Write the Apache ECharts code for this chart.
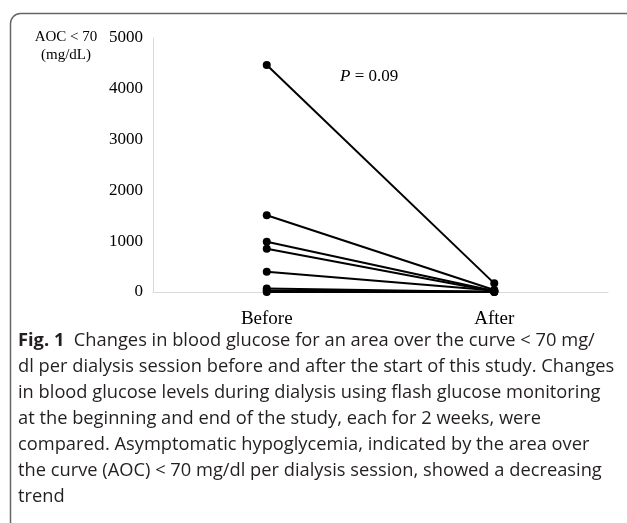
<!DOCTYPE html>
<html>
<head>
<meta charset="utf-8">
<script src="https://cdn.jsdelivr.net/npm/echarts@6/dist/echarts.min.js"></script>
<style>
  html, body { margin: 0; padding: 0; background: #fff; }
  #main { width: 627px; height: 523px; }
</style>
</head>
<body>
<div id="main"></div>
<script>
// categories on the x axis
const periods = ['Before', 'After'];
// AOC < 70 (mg/dL) per patient
const beforeValues = [4470, 1510, 990, 850, 400, 70, 30, 0];
const afterValues = [170, 40, 20, 10, 30, 0, 10, 0];
const yTicks = { min: 0, max: 5000, interval: 1000 };

const captionLines = [
    '{b|Fig. 1}  Changes in blood glucose for an area over the curve < 70 mg/',
    'dl per dialysis session before and after the start of this study. Changes',
    'in blood glucose levels during dialysis using flash glucose monitoring',
    'at the beginning and end of the study, each for 2 weeks, were',
    'compared. Asymptomatic hypoglycemia, indicated by the area over',
    'the curve (AOC) < 70 mg/dl per dialysis session, showed a decreasing',
    'trend'
];

const chart = echarts.init(document.getElementById('main'));

const series = beforeValues.map((v, i) => ({
    type: 'line',
    data: [v, afterValues[i]],
    symbol: 'circle',
    symbolSize: 8,
    lineStyle: { color: '#000', width: 2 },
    itemStyle: { color: '#000' }
}));

const captionText = captionLines.map((line, i) => ({
    type: 'text',
    x: 18,
    y: 332 + i * 26,
    style: {
        text: line,
        fill: '#231f20',
        font: '18.3px "Open Sans", sans-serif',
        rich: {
            b: { fontWeight: 'bold', fontSize: 18.3, fontFamily: 'Open Sans', fill: '#231f20' }
        }
    }
}));

chart.setOption({
    animation: false,
    grid: { left: 153, right: 19, top: 38, bottom: 231 },
    xAxis: {
        type: 'category',
        data: periods,
        axisLine: { lineStyle: { color: '#d9d9d9', width: 1 } },
        axisTick: { show: false },
        axisLabel: { color: '#000', fontFamily: 'Liberation Serif', fontSize: 19, margin: 18 }
    },
    yAxis: {
        type: 'value',
        min: yTicks.min,
        max: yTicks.max,
        interval: yTicks.interval,
        axisLine: { show: true, lineStyle: { color: '#d9d9d9', width: 1 } },
        axisTick: { show: false },
        splitLine: { show: false },
        axisLabel: {
            color: '#000', fontFamily: 'Liberation Serif', fontSize: 17, margin: 10,
            formatter: v => String(v)
        }
    },
    graphic: [
        {
            type: 'rect',
            shape: { x: 10.5, y: 13.5, width: 640, height: 540, r: [10, 0, 0, 0] },
            style: { fill: 'none', stroke: '#666', lineWidth: 1.5 },
            silent: true
        },
        {
            type: 'text',
            x: 66,
            y: 28,
            style: {
                text: 'AOC < 70\n(mg/dL)',
                align: 'center',
                font: '15px "Liberation Serif"',
                fill: '#000',
                lineHeight: 18
            }
        },
        {
            type: 'text',
            x: 340,
            y: 68,
            style: {
                text: '{i|P} = 0.09',
                font: '17px "Liberation Serif"',
                fill: '#000',
                rich: { i: { fontStyle: 'italic', fontFamily: 'Liberation Serif', fontSize: 17 } }
            }
        },
        ...captionText
    ],
    series
});
</script>
</body>
</html>
